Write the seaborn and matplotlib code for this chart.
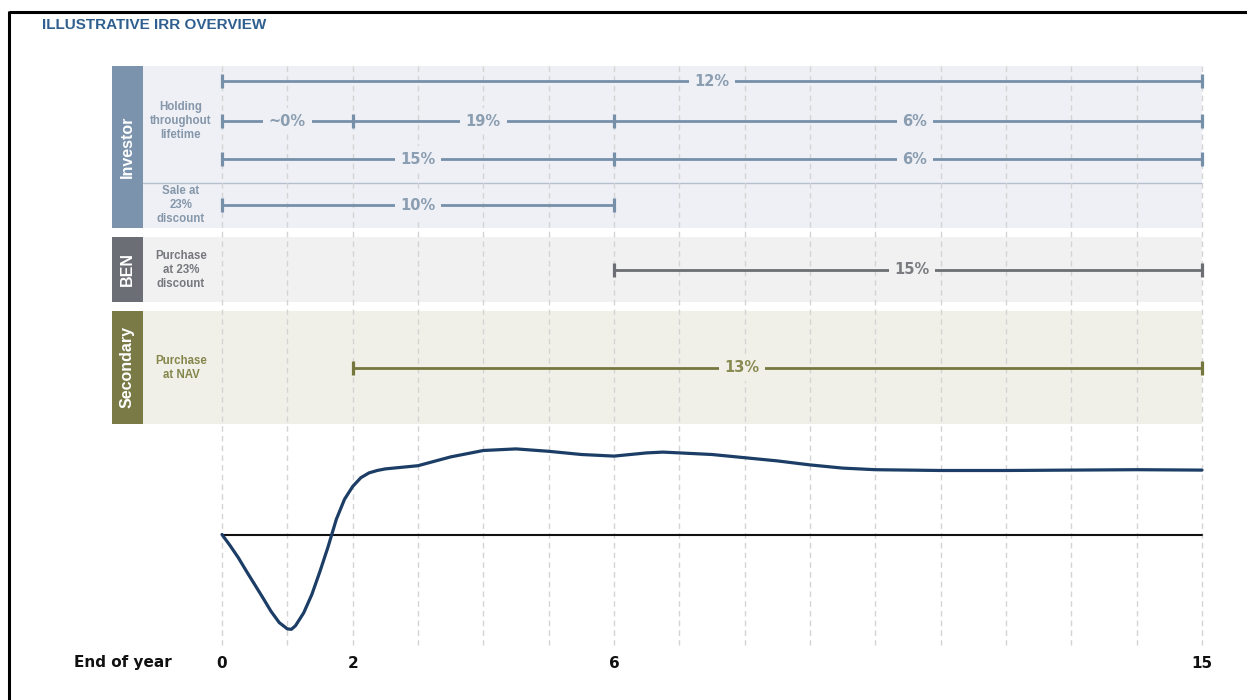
import matplotlib
matplotlib.use("Agg")
import matplotlib.pyplot as plt
import seaborn as sns
import pandas as pd
import numpy as np

# ---------------- data ----------------
years_axis = list(range(0, 16))
tick_years = [0, 2, 6, 15]
tick_labels = ["0", "2", "6", "15"]

# IRR spans: breakpoints (end of year) and labels
row1_breaks = [0, 15]
row1_labels = ["12%"]
row2_breaks = [0, 2, 6, 15]
row2_labels = ["~0%", "19%", "6%"]
row3_breaks = [0, 6, 15]
row3_labels = ["15%", "6%"]
sale_breaks = [0, 6]
sale_labels = ["10%"]
ben_breaks = [6, 15]
ben_labels = ["15%"]
sec_breaks = [2, 15]
sec_labels = ["13%"]

group_names = ["Investor", "BEN", "Secondary"]
sub_holding = "Holding\nthroughout\nlifetime"
sub_sale = "Sale at\n23%\ndiscount"
sub_ben = "Purchase\nat 23%\ndiscount"
sub_sec = "Purchase\nat NAV"

# illustrative cumulative IRR curve
curve_years = [0, 0.125, 0.25, 0.375, 0.5, 0.625, 0.75, 0.875, 1.0, 1.0625, 1.125,
               1.25, 1.375, 1.5, 1.625, 1.75, 1.875, 2.0, 2.125, 2.25, 2.375, 2.5,
               2.75, 3.0, 3.5, 4.0, 4.5, 5.0, 5.5, 6.0, 6.5, 6.75, 7.0, 7.5, 8.0,
               8.5, 9.0, 9.5, 10.0, 11.0, 12.0, 13.0, 14.0, 15.0]
curve_vals = [0, -1.4, -2.9, -4.6, -6.25, -7.9, -9.6, -11.0, -11.8, -11.85, -11.4,
              -9.8, -7.5, -4.6, -1.5, 1.9, 4.4, 6.0, 7.1, 7.7, 8.0, 8.2,
              8.4, 8.6, 9.7, 10.5, 10.7, 10.4, 10.0, 9.8, 10.2, 10.3, 10.2, 10.0, 9.6,
              9.2, 8.7, 8.3, 8.1, 8.0, 8.0, 8.05, 8.1, 8.05]

# ---------------- layout ----------------
W, H = 1247, 700
X0, PXY = 222.0, (1202.0 - 222.0) / 15.0  # px of year 0, px per year


def px2yr(px):
    return (px - X0) / PXY


sns.set_theme(style="white")
plt.rcParams["font.family"] = ["Liberation Sans", "DejaVu Sans"]

fig = plt.figure(figsize=(W / 100, H / 100), dpi=100)
ax = fig.add_axes([0, 0, 1, 1])
ax.set_xlim(px2yr(0), px2yr(W))
ax.set_ylim(H, 0)
ax.axis("off")

# curve axes (value scale): 0 at row 534.5, 8 px per unit
ZERO_PX, UNIT = 534.5, 8.0
ax2 = fig.add_axes([0, 0, 1, 1], sharex=ax)
ax2.set_ylim((ZERO_PX - H) / UNIT, ZERO_PX / UNIT)
ax2.patch.set_alpha(0)
ax2.axis("off")

# frame (top + left)
ax.plot([px2yr(9), px2yr(W + 5)], [12, 12], color="black", lw=2.2, solid_capstyle="butt")
ax.plot([px2yr(9), px2yr(9)], [11, H + 5], color="black", lw=2.2, solid_capstyle="butt")

# title
ax.text(px2yr(42), 25, "ILLUSTRATIVE IRR OVERVIEW", color="#2f5f8e", fontsize=11,
        fontweight="bold", ha="left", va="center")

bands = [
    # name, top, bottom, bar colour, bg colour
    ("Investor", 66, 228, "#7b93ac", "#eff0f5"),
    ("BEN", 237, 302, "#6b6e75", "#f1f1f2"),
    ("Secondary", 311, 424, "#797a45", "#f1f0e8"),
]
lab_l, lab_r, bg_r = px2yr(112), px2yr(143), 15
for name, top, bot, bc, bg in bands:
    ax.fill_between([lab_l, lab_r], top, bot, color=bc, lw=0, zorder=1)
    ax.fill_between([lab_r, bg_r], top, bot, color=bg, lw=0, zorder=1)
    ax.text((lab_l + lab_r) / 2, (top + bot) / 2, name, rotation=90, color="white",
            fontsize=11.5, fontweight="bold", ha="center", va="center", zorder=5)

# investor divider
ax.plot([lab_r, 15], [182.5, 182.5], color="#b3bfcd", lw=1, zorder=2)

# grid lines
ax.vlines(years_axis, 66, 645, colors="#d4d4d4", lw=1, linestyles=(0, (4, 3)), zorder=2)

# sub labels
sub_x = px2yr(181)
sub_kw = dict(fontsize=8.3, fontweight="bold", ha="center", va="center",
              linespacing=1.25, zorder=5)
ax.text(sub_x, 121, sub_holding, color="#8597ab", **sub_kw)
ax.text(sub_x, 205, sub_sale, color="#8597ab", **sub_kw)
ax.text(sub_x, 270, sub_ben, color="#76787d", **sub_kw)
ax.text(sub_x, 368, sub_sec, color="#85864c", **sub_kw)


def span_row(y, breaks, labels, lc, tc, bg, label_pos=None):
    ax.plot([breaks[0], breaks[-1]], [y, y], color=lc, lw=2.0, zorder=3,
            solid_capstyle="butt")
    ax.plot(breaks, [y] * len(breaks), ls="none", marker="|", ms=10.5, mew=2.3,
            color=lc, zorder=4)
    for i, lab in enumerate(labels):
        xm = (breaks[i] + breaks[i + 1]) / 2 if label_pos is None else label_pos[i]
        ax.text(xm, y, lab, color=tc, fontsize=10.5, fontweight="bold",
                family="DejaVu Sans", ha="center", va="center", zorder=5,
                bbox=dict(boxstyle="square,pad=0.4", fc=bg, ec="none"))


inv_l, inv_t, inv_bg = "#7690aa", "#8a9db1", "#eff0f5"
span_row(81, row1_breaks, row1_labels, inv_l, inv_t, inv_bg)
span_row(121, row2_breaks, row2_labels, inv_l, inv_t, inv_bg,
         label_pos=[1, 4, px2yr(915)])
span_row(159, row3_breaks, row3_labels, inv_l, inv_t, inv_bg,
         label_pos=[3, px2yr(915)])
span_row(205, sale_breaks, sale_labels, inv_l, inv_t, inv_bg)
span_row(270, ben_breaks, ben_labels, "#6c6e73", "#7a7c80", "#f1f1f2",
         label_pos=[px2yr(912)])
span_row(368, sec_breaks, sec_labels, "#76773f", "#898a52", "#f1f0e8",
         label_pos=[px2yr(742)])

# zero line + curve
ax2.plot([0, 15], [0, 0], color="#111111", lw=1.5, zorder=3)
df = pd.DataFrame({"year": curve_years, "irr": curve_vals})
sns.lineplot(data=df, x="year", y="irr", ax=ax2, color="#1c3d66", lw=2.3,
             zorder=4, legend=False)
ax2.lines[-1].set_solid_joinstyle("round")
ax2.axis("off")

# x tick labels
ax.text(px2yr(172), 663, "End of year", color="#111111", fontsize=11, fontweight="bold",
        family="DejaVu Sans", ha="right", va="center")
for t, lab in zip(tick_years, tick_labels):
    ax.text(t, 663, lab, color="#111111", fontsize=11, fontweight="bold",
            family="DejaVu Sans", ha="center", va="center")

fig.savefig("out.png", dpi=100)
